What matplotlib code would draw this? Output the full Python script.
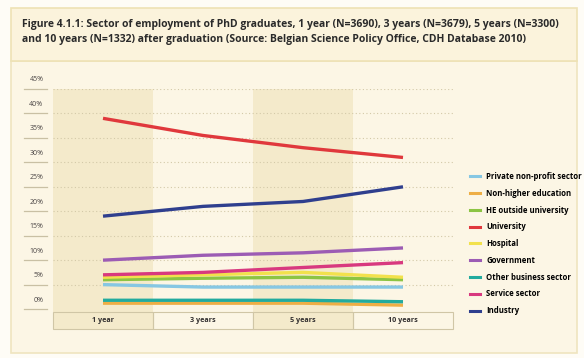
import matplotlib
matplotlib.use("Agg")
import matplotlib.pyplot as plt
from matplotlib.patches import Rectangle
from matplotlib.lines import Line2D
import matplotlib.transforms as mtransforms

plt.rcParams["font.family"] = ["Open Sans", "DejaVu Sans"]

# Share of PhD graduates per sector (%), by time after graduation
periods = ["1 year", "3 years", "5 years", "10 years"]
sectors = [
    "Private non-profit sector",
    "Non-higher education",
    "HE outside university",
    "University",
    "Hospital",
    "Government",
    "Other business sector",
    "Service sector",
    "Industry",
]
private_nonprofit = [5.0, 4.5, 4.5, 4.5]
non_higher_edu = [1.2, 1.2, 1.2, 0.8]
he_outside_uni = [6.0, 6.3, 6.5, 6.0]
university = [39.0, 35.5, 33.0, 31.0]
hospital = [6.5, 7.0, 7.5, 6.5]
government = [10.0, 11.0, 11.5, 12.5]
other_business = [1.8, 1.8, 1.8, 1.5]
service_sector = [7.0, 7.5, 8.5, 9.5]
industry = [19.0, 21.0, 22.0, 25.0]

series = [private_nonprofit, non_higher_edu, he_outside_uni, university, hospital,
          government, other_business, service_sector, industry]
colors = ["#86c7e3", "#eeae45", "#8cc443", "#e0383c", "#f2e14c",
          "#9c5cb4", "#22ab9e", "#d8397f", "#2f3f8e"]
yticks = [0, 5, 10, 15, 20, 25, 30, 35, 40, 45]

title = ("Figure 4.1.1: Sector of employment of PhD graduates, 1 year (N=3690), "
         "3 years (N=3679), 5 years (N=3300)\n"
         "and 10 years (N=1332) after graduation (Source: Belgian Science Policy "
         "Office, CDH Database 2010)")

W, H = 584, 358
fig = plt.figure(figsize=(W / 100, H / 100), dpi=100, facecolor="#fefcf6")


def px(x, y):
    return x / W, 1 - y / H


# panel and title box, kept behind the axes
x0, y0 = px(11, 353)
x1, y1 = px(577, 61)
fig.patches.append(Rectangle((x0, y0), x1 - x0, y1 - y0, transform=fig.transFigure,
                             facecolor="#fcf6e5", edgecolor="#efe5bf", lw=1.2,
                             zorder=-5))
x0, y0 = px(11, 61)
x1, y1 = px(577, 8)
fig.patches.append(Rectangle((x0, y0), x1 - x0, y1 - y0, transform=fig.transFigure,
                             facecolor="#fbf3dc", edgecolor="#eee2b5", lw=1.2,
                             zorder=-5))
fig.text(22 / W, 1 - 19 / H, title, fontsize=7.5, fontweight="bold", color="#2a2a2a",
         va="top", ha="left", linespacing=1.45)

# plot area
left, top = px(53, 89)
right, bottom = px(453, 312)
ax = fig.add_axes([left, bottom, right - left, top - bottom])
ax.set_facecolor("none")
ax.set_xlim(-0.5, 3.5)
ax.set_ylim(-0.6, 45)
for s in ax.spines.values():
    s.set_visible(False)
ax.set_xticks([])
ax.set_yticks([])

for i in (0, 2):
    ax.axvspan(i - 0.5, i + 0.5, color="#f4eacb", lw=0, zorder=0)

for v in yticks[1:]:
    ax.axhline(v, color="#d3c9a8", lw=0.8, ls=(0, (1, 2.2)), zorder=1)

blend = mtransforms.blended_transform_factory(ax.transAxes, ax.transData)
for v in yticks:
    ax.plot([-0.0725, -0.015], [v, v], transform=blend, color="#c9c0a4", lw=0.9,
            clip_on=False)
    ax.annotate(f"{v}%", xy=(-0.024, v), xycoords=blend, xytext=(0, 6.5),
                textcoords="offset points", ha="right", va="center",
                fontsize=5, color="#4a4545")

# category boxes under the plot
blend_x = mtransforms.blended_transform_factory(ax.transData, ax.transAxes)
box_h = 17 / 223
for i, lab in enumerate(periods):
    ax.add_patch(Rectangle((i - 0.5, -box_h), 1, box_h, transform=blend_x,
                           facecolor="#f4eacb" if i % 2 == 0 else "none",
                           edgecolor="#d0c6a6", lw=0.8, clip_on=False))
    ax.text(i, -box_h / 2, lab, transform=blend_x, ha="center", va="center",
            fontsize=5.2, fontweight="bold", color="#333030")

x = list(range(len(periods)))
handles = []
for name, vals, c in zip(sectors, series, colors):
    ax.plot(x, vals, color=c, lw=2.4, solid_capstyle="butt", zorder=3)
    handles.append(Line2D([], [], color=c, lw=2.2, label=name))

lx, ly = px(470, 172)
fig.legend(handles=handles, loc="upper left", bbox_to_anchor=(lx, ly),
           frameon=False, handlelength=1.3, handletextpad=0.8,
           labelspacing=1.0, borderpad=0, borderaxespad=0,
           prop={"weight": "bold", "size": 5.6})

fig.savefig("out.png", dpi=100, facecolor=fig.get_facecolor())
